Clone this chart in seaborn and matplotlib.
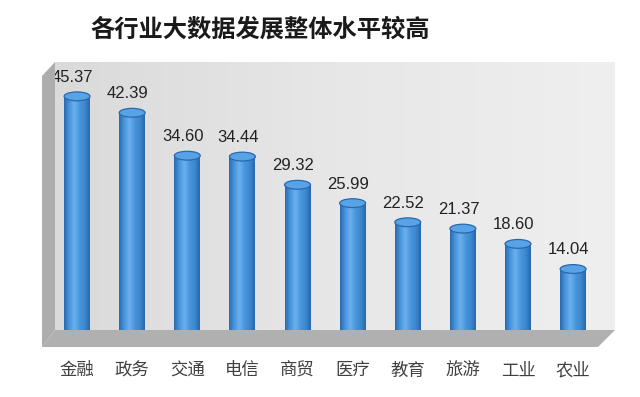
import numpy as np
import pandas as pd
import matplotlib
matplotlib.use('Agg')
import matplotlib.pyplot as plt
import seaborn as sns
from matplotlib.patches import Polygon, Ellipse
from matplotlib.colors import LinearSegmentedColormap

categories = ['金融', '政务', '交通', '电信', '商贸', '医疗', '教育', '旅游', '工业', '农业']
values = [45.37, 42.39, 34.60, 34.44, 29.32, 25.99, 22.52, 21.37, 18.60, 14.04]
title = '各行业大数据发展整体水平较高'

sns.set_theme(style='white')
plt.rcParams['font.family'] = ['Noto Sans CJK SC', 'DejaVu Sans']

W, H = 640, 397
fig = plt.figure(figsize=(6.4, 3.97), dpi=100)
fig.patch.set_facecolor('white')


def fx(px):
    return px / W


def fy(py):
    return 1 - py / H


# back wall
bg = fig.add_axes([fx(55), fy(330), fx(615) - fx(55), fy(62) - fy(330)])
wall = LinearSegmentedColormap.from_list('wall', ['#dadada', '#e7e7e7', '#efefef'])
bg.imshow(np.linspace(0, 1, 256)[None, :], aspect='auto', cmap=wall, extent=[0, 1, 0, 1])
bg.set_axis_off()

# left side wall and floor
fig.add_artist(Polygon([(fx(42), fy(76)), (fx(55), fy(62)), (fx(55), fy(330)), (fx(42), fy(347))],
                       closed=True, transform=fig.transFigure, facecolor='#adadad', edgecolor='none'))
fig.add_artist(Polygon([(fx(55), fy(330)), (fx(615), fy(330)), (fx(598), fy(347)), (fx(42), fy(347))],
                       closed=True, transform=fig.transFigure, facecolor='#b0b0b0', edgecolor='none'))

ax = fig.add_axes([fx(55), fy(342), fx(615) - fx(55), fy(62) - fy(342)])
ax.set_facecolor('none')
df = pd.DataFrame({'cat': categories, 'val': values})
sns.barplot(data=df, x='cat', y='val', color='#3b8ad4', width=0.47, ax=ax, zorder=3)
ax.set_xlim(-0.4, 9.76)
ax.set_ylim(0, 50.8)

cyl = LinearSegmentedColormap.from_list('cyl', ['#2a69ad', '#4895dc', '#6cb0ee', '#4a96dc', '#3c88d1', '#2866aa'])
cap_h = 1.6
for p, v in zip(ax.patches, values):
    x0 = p.get_x()
    w = p.get_width()
    h = p.get_height()
    p.set_alpha(0)
    ax.imshow(np.linspace(0, 1, 256)[None, :], aspect='auto', cmap=cyl,
              extent=[x0, x0 + w, 0, h - cap_h / 2], zorder=3)
    im2 = ax.imshow(np.linspace(0, 1, 256)[None, :], aspect='auto', cmap=cyl,
                    extent=[x0, x0 + w, -cap_h / 2, 0.01], zorder=3)
    im2.set_clip_path(Ellipse((x0 + w / 2, 0), w, cap_h, transform=ax.transData))
    ax.add_patch(Ellipse((x0 + w / 2, h - cap_h / 2), w, cap_h, facecolor='#58a3e6',
                         edgecolor='#2a68ad', linewidth=0.9, zorder=4))
    ax.text(x0 + w / 2 - 0.08, h + 1.3, f'{v:.2f}', ha='center', va='bottom', fontsize=12,
            color='#222222', family=['Liberation Sans', 'DejaVu Sans'], zorder=5)

ax.set_xlim(-0.4, 9.76)
ax.set_ylim(0, 50.8)
ax.set_xlabel('')
ax.set_ylabel('')
ax.set_yticks([])
for s in ax.spines.values():
    s.set_visible(False)
ax.tick_params(axis='x', length=0, pad=14, labelsize=12.5, labelcolor='#404040')

fig.text(fx(90), fy(30), title, fontsize=17.5, fontweight='bold', va='center', ha='left', color='#1a1a1a')

fig.savefig('out.png', dpi=100, facecolor='white')
